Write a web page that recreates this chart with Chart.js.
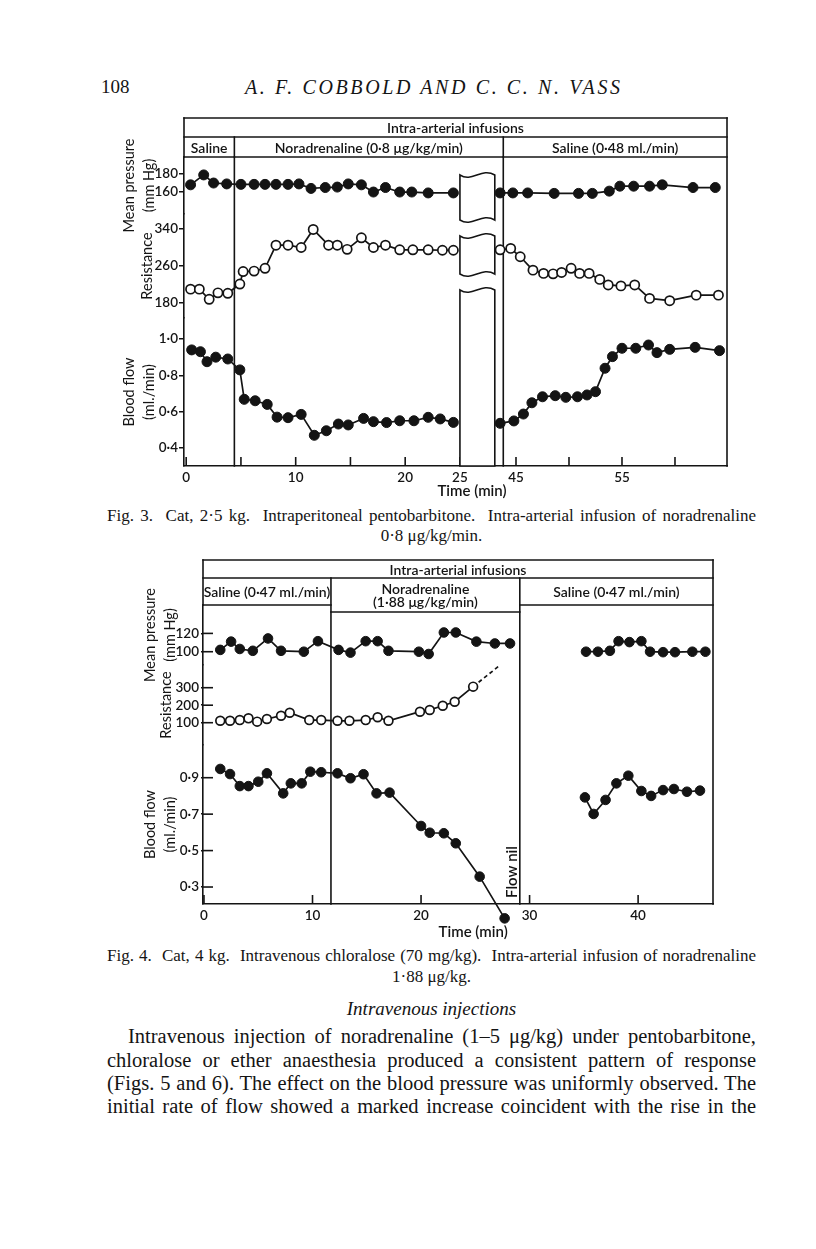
<!DOCTYPE html>
<html>
<head>
<meta charset="utf-8">
<title>Cobbold and Vass, Figs. 3 and 4</title>
<script src="https://cdn.jsdelivr.net/npm/chart.js@4.4.1/dist/chart.umd.min.js"></script>
<style>
  html, body { margin: 0; padding: 0; background: #fff; }
  #page { position: relative; width: 816px; height: 1249px; overflow: hidden;
          font-family: "Liberation Serif", "DejaVu Serif", serif; color: #141414; }
  .t { position: absolute; white-space: pre; }
  .fit { display: inline-block; }
  .fig { position: absolute; }
  .centre { text-align: center; }
  .it { font-style: italic; }
</style>
</head>
<body>
<div id="page">
  <div class="t" style="left:101px; top:75px; font-size:19px; line-height:24px;">108</div>
  <div class="t it" style="left:245px; top:75px; font-size:20px; line-height:24px;"><span class="fit" data-w="375" data-mode="letters">A. F. COBBOLD AND C. C. N. VASS</span></div>

  <div class="fig" style="left:100px; top:110px; width:640px; height:390px;"><canvas id="fig3"></canvas></div>

  <div class="t" style="left:107px; top:506px; font-size:17px; line-height:20px;"><span class="fit" data-w="649">Fig. 3.  Cat, 2·5 kg.  Intraperitoneal pentobarbitone.  Intra-arterial infusion of noradrenaline</span></div>
  <div class="t centre" style="left:107px; width:649px; top:526px; font-size:17px; line-height:20px;">0·8 μg/kg/min.</div>

  <div class="fig" style="left:120px; top:550px; width:620px; height:395px;"><canvas id="fig4"></canvas></div>

  <div class="t" style="left:107px; top:946px; font-size:17px; line-height:20px;"><span class="fit" data-w="649">Fig. 4.  Cat, 4 kg.  Intravenous chloralose (70 mg/kg).  Intra-arterial infusion of noradrenaline</span></div>
  <div class="t centre" style="left:107px; width:649px; top:967px; font-size:17px; line-height:20px;">1·88 μg/kg.</div>

  <div class="t centre it" style="left:107px; width:649px; top:997px; font-size:19px; line-height:23px;">Intravenous injections</div>

  <div class="t" style="left:128px; top:1025px; font-size:20.5px; line-height:23.3px;"><span class="fit" data-w="628">Intravenous injection of noradrenaline (1–5 μg/kg) under pentobarbitone,</span></div>
  <div class="t" style="left:107px; top:1048.5px; font-size:20.5px; line-height:23.3px;"><span class="fit" data-w="649">chloralose or ether anaesthesia produced a consistent pattern of response</span></div>
  <div class="t" style="left:107px; top:1072px; font-size:20.5px; line-height:23.3px;"><span class="fit" data-w="649">(Figs. 5 and 6). The effect on the blood pressure was uniformly observed. The</span></div>
  <div class="t" style="left:107px; top:1095px; font-size:20.5px; line-height:23.3px;"><span class="fit" data-w="649">initial rate of flow showed a marked increase coincident with the rise in the</span></div>
</div>

<script>
'use strict';

// ---------- Fig. 3 : times in min (the 25-45 min stretch is cut out of the axis) ----------
let fig3PressureTime = [0.4, 1.6, 2.5, 3.7, 5.0, 6.2, 7.2, 8.2, 9.3, 10.3, 11.4, 12.7, 13.8, 14.8, 16.0, 17.1, 18.2, 19.5, 20.6, 22.1, 24.4,
  43.5, 44.7, 46.1, 48.6, 50.9, 52.2, 53.8, 54.8, 56.1, 57.6, 58.8, 61.7, 63.8];
let fig3PressureValue = [168, 179, 170, 169, 168.5, 168.5, 168.5, 168.5, 168.5, 169, 164, 165, 165.5, 169, 168, 160, 165, 160, 160, 159, 159,
  159, 159, 159, 158.5, 158.5, 158.5, 161, 166.5, 166.5, 166.5, 168, 165, 165];

let fig3ResistTime = [0.4, 1.2, 2.1, 2.9, 3.8, 4.9, 5.2, 6.2, 7.2, 8.2, 9.3, 10.5, 11.6, 13.0, 13.8, 14.7, 16.0, 17.1, 18.2, 19.5, 20.7, 22.1, 23.4, 24.4,
  43.5, 44.5, 45.4, 46.6, 47.6, 48.5, 49.3, 50.2, 51.0, 51.9, 52.9, 53.7, 54.9, 56.2, 57.6, 59.5, 62.0, 64.1];
let fig3ResistValue = [210, 210, 188, 202, 201, 221, 248, 249, 255, 305, 305, 300, 339, 305, 305, 296, 321, 300, 305, 295, 295, 295, 294, 294,
  295, 298, 280, 251, 244, 243, 246, 255, 244, 244, 231, 219, 217, 219, 190, 185, 197, 197];

let fig3FlowTime = [0.5, 1.3, 1.9, 2.7, 3.8, 4.9, 5.3, 6.3, 7.4, 8.3, 9.3, 10.5, 11.7, 12.8, 13.9, 14.8, 16.2, 17.1, 18.3, 19.5, 20.8, 22.1, 23.2, 24.4,
  43.5, 44.8, 45.7, 46.5, 47.5, 48.7, 49.7, 50.8, 51.7, 52.5, 53.4, 54.1, 55.0, 56.3, 57.5, 58.3, 59.5, 61.9, 64.2];
let fig3FlowValue = [0.94, 0.93, 0.875, 0.90, 0.89, 0.83, 0.668, 0.66, 0.64, 0.57, 0.567, 0.585, 0.47, 0.495, 0.532, 0.527, 0.563, 0.545, 0.54, 0.55, 0.55, 0.569, 0.56, 0.541,
  0.536, 0.549, 0.587, 0.649, 0.682, 0.688, 0.679, 0.682, 0.692, 0.71, 0.839, 0.903, 0.949, 0.949, 0.967, 0.925, 0.943, 0.954, 0.936];

let fig3TickTimes = [0, 5, 10, 15, 20, 25, 45, 50, 55, 60];
let fig3TickLabels = ['0', '', '10', '', '20', '25', '45', '', '55', ''];

// ---------- Fig. 4 ----------
let fig4PressureTime = [1.5, 2.5, 3.3, 4.5, 5.9, 7.1, 9.2, 10.5, 12.4, 13.5, 14.9, 16.0, 17.0, 19.8, 20.7, 22.1, 23.2, 25.1, 26.8, 28.2,
  35.2, 36.3, 37.4, 38.2, 39.2, 40.3, 41.1, 42.3, 43.4, 45.0, 46.2];
let fig4PressureValue = [102, 111, 103, 101, 114.5, 101, 100, 111.5, 102, 99, 111.5, 111.5, 101, 100, 97.5, 121, 121, 111, 109, 109,
  100, 100, 101, 111.5, 110.5, 111.5, 100, 99.5, 99.5, 100, 100];

let fig4ResistTime = [1.5, 2.4, 3.3, 4.1, 4.9, 5.8, 7.1, 7.9, 9.7, 10.8, 12.3, 13.4, 14.9, 16.0, 17.0, 19.9, 20.8, 22.0, 23.1, 24.8];
let fig4ResistValue = [111, 111, 115, 125, 106, 121, 140, 157, 115, 115, 111, 111, 115, 131, 111, 163, 173, 197, 220, 306];
let fig4TrendTime = [24.8, 27.1];
let fig4TrendValue = [306, 420];

let fig4FlowTime = [1.5, 2.4, 3.3, 4.1, 5.0, 5.8, 7.3, 8.0, 9.0, 9.8, 10.8, 12.3, 13.5, 14.7, 15.9, 17.1, 20.0, 20.8, 22.1, 23.2, 25.4, 27.7,
  35.1, 35.9, 37.0, 38.0, 39.1, 40.3, 41.2, 42.3, 43.3, 44.5, 45.7];
let fig4FlowValue = [0.948, 0.92, 0.854, 0.854, 0.878, 0.924, 0.814, 0.869, 0.869, 0.933, 0.93, 0.924, 0.897, 0.919, 0.814, 0.818, 0.635, 0.598, 0.595, 0.54, 0.357, 0.128,
  0.792, 0.701, 0.778, 0.869, 0.911, 0.827, 0.8, 0.832, 0.838, 0.823, 0.829];

let fig4TickTimes = [0, 10, 20, 30, 40];

const INK = '#141414';
const SANS = 'Lato, "Open Sans", "DejaVu Sans", sans-serif';

// Fig. 3 axis jumps from 25 to 45 min
function fig3X(t) {
  return t <= 25 ? t : 30.12 + (t - 45) * 0.968;
}
function plainX(t) {
  return t;
}

function decimal(v) {
  return v.toFixed(1).replace('.', '·');
}

function sansFont(size, weight) {
  return { family: SANS, size: size, weight: weight || 'normal', lineHeight: 1.35 };
}

// points, with a gap wherever the record was interrupted
function series(times, values, toX) {
  let pts = [];
  for (let i = 0; i < times.length; i++) {
    if (i > 0 && times[i] - times[i - 1] > 5) {
      pts.push({ x: toX(times[i - 1]), y: null });
    }
    pts.push({ x: toX(times[i]), y: values[i] });
  }
  return pts;
}

function filled(data, axis, r) {
  return { data: data, yAxisID: axis, borderColor: INK, borderWidth: 1.7, tension: 0, clip: false,
    pointRadius: r, pointBackgroundColor: INK, pointBorderColor: INK, pointBorderWidth: 1 };
}
function open(data, axis, r) {
  return { data: data, yAxisID: axis, borderColor: INK, borderWidth: 1.7, tension: 0, clip: false,
    pointRadius: r, pointBackgroundColor: '#fff', pointBorderColor: INK, pointBorderWidth: 1.7 };
}

function bandAxis(c) {
  return {
    type: 'linear', position: 'left', stack: 'bands', stackWeight: c.weight, weight: c.order,
    min: c.min, max: c.max,
    afterBuildTicks: s => { s.ticks = c.ticks.map(v => ({ value: v })); },
    afterFit: s => { s.width = c.width; },
    grid: { drawOnChartArea: false, drawTicks: true, tickLength: c.tickOut, color: INK, lineWidth: 1.5 },
    border: { display: true, color: INK, width: 1.6 },
    ticks: { color: INK, font: sansFont(13.5, '600'), padding: c.tickPad, autoSkip: false, callback: c.fmt || (v => String(v)) },
    title: { display: true, text: c.title, color: INK, font: sansFont(14.5), padding: { top: c.titlePad, bottom: 0 } }
  };
}

function timeAxis(c) {
  return {
    type: 'linear', min: c.min, max: c.max,
    afterBuildTicks: s => { s.ticks = c.ticks.map(t => ({ value: c.toX(t) })); },
    afterFit: s => { s.height = c.height; },
    grid: { drawOnChartArea: false, drawTicks: false },
    border: { display: true, color: INK, width: 1.6 },
    ticks: { color: INK, font: sansFont(13.5, '600'), padding: c.pad, maxRotation: 0, autoSkip: false,
      callback: (v, i) => c.labels[i] }
  };
}

function wave(ctx, xa, xb, y, back) {
  let w = xb - xa;
  if (!back) {
    ctx.bezierCurveTo(xa + w * 0.35, y + 8, xa + w * 0.62, y - 8, xb, y);
  } else {
    // same edge, walked from right to left
    ctx.bezierCurveTo(xa + w * 0.62, y - 8, xa + w * 0.35, y + 8, xa, y);
  }
}

// header boxes, phase lines, inward ticks, axis break and notes
const figureFrame = {
  id: 'figureFrame',
  beforeDatasetsDraw(chart, args, o) {
    let ctx = chart.ctx;
    let a = chart.chartArea;
    let xs = chart.scales.x;
    let px = t => xs.getPixelForValue(o.toX(t));
    let top = a.top - o.rows[0] - o.rows[1];
    let mid = a.top - o.rows[1];
    let seg = (x0, y0, x1, y1) => { ctx.beginPath(); ctx.moveTo(x0, y0); ctx.lineTo(x1, y1); ctx.stroke(); };

    ctx.save();
    ctx.strokeStyle = INK;
    ctx.fillStyle = INK;
    ctx.lineWidth = 1.6;
    ctx.lineCap = 'square';

    seg(a.left, top, a.right, top);
    seg(a.left, top, a.left, a.top);
    seg(a.right, top, a.right, a.bottom);
    seg(a.left, mid, a.right, mid);
    o.boundaries.forEach(t => seg(px(t), mid, px(t), a.bottom));

    ctx.textAlign = 'center';
    ctx.textBaseline = 'middle';
    ctx.font = o.headFont;
    ctx.fillText(o.title, (a.left + a.right) / 2, top + o.rows[0] / 2 + 1);
    o.phases.forEach(ph => {
      let x0 = ph.from == null ? a.left : px(ph.from);
      let x1 = ph.to == null ? a.right : px(ph.to);
      let yb = a.top + (ph.drop || 0);
      seg(x0, yb, x1, yb);
      let yc = (mid + yb) / 2 + 1 - (ph.text.length - 1) * o.headLine / 2;
      ph.text.forEach((s, i) => ctx.fillText(s, (x0 + x1) / 2, yc + i * o.headLine));
    });

    ctx.lineCap = 'butt';
    xs.ticks.forEach(tk => {
      let p = xs.getPixelForValue(tk.value);
      seg(p, a.bottom, p, a.bottom - o.xTickIn);
    });
    if (o.yTickIn) {
      ['yP', 'yR', 'yF'].forEach(id => {
        let ys = chart.scales[id];
        ys.ticks.forEach(tk => {
          let p = ys.getPixelForValue(tk.value);
          seg(a.left, p, a.left + o.yTickIn, p);
        });
      });
    }

    if (o.cut) {
      let x0 = px(o.cut.from);
      let x1 = px(o.cut.to);
      o.cut.boxes.forEach(b => {
        let y0 = a.top + b[0];
        let y1 = b[1] == null ? a.bottom : a.top + b[1];
        ctx.beginPath();
        ctx.moveTo(x0, y0);
        wave(ctx, x0, x1, y0, false);
        ctx.lineTo(x1, y1);
        if (b[1] == null) {
          ctx.lineTo(x0, y1);
        } else {
          wave(ctx, x0, x1, y1, true);
        }
        ctx.closePath();
        ctx.fillStyle = '#fff';
        ctx.fill();
        ctx.stroke();
      });
    }

    // axis title sits at an axis value, not a time
    ctx.fillStyle = INK;
    ctx.font = o.labelFont;
    ctx.fillText('Time (min)', xs.getPixelForValue(o.xTitleAt), a.bottom + o.xTitleDy);
    (o.notes || []).forEach(n => {
      ctx.save();
      ctx.translate(px(n.at), a.bottom - n.up);
      ctx.rotate(-Math.PI / 2);
      ctx.fillText(n.text, 0, 0);
      ctx.restore();
    });
    ctx.restore();
  },
  // Chart.js leaves out points that fall outside the plot area; the last flow reading of Fig. 4 is printed below the axis
  afterDatasetsDraw(chart) {
    let ctx = chart.ctx;
    let a = chart.chartArea;
    chart.data.datasets.forEach((ds, i) => {
      if (!ds.pointRadius) return;
      chart.getDatasetMeta(i).data.forEach(pt => {
        if (pt.skip || (pt.y <= a.bottom + 0.5 && pt.y >= a.top - 0.5)) return;
        ctx.save();
        ctx.beginPath();
        ctx.arc(pt.x, pt.y, ds.pointRadius, 0, Math.PI * 2);
        ctx.fillStyle = ds.pointBackgroundColor;
        ctx.strokeStyle = ds.pointBorderColor;
        ctx.lineWidth = ds.pointBorderWidth;
        ctx.fill();
        ctx.stroke();
        ctx.restore();
      });
    });
  }
};

function baseOptions(pad) {
  return {
    responsive: true,
    maintainAspectRatio: false,
    animation: false,
    events: [],
    layout: { autoPadding: false, padding: pad },
    plugins: { legend: { display: false }, tooltip: { enabled: false } }
  };
}

// ---------- Fig. 3 ----------
let opt3 = baseOptions({ top: 47, right: 13, left: 0, bottom: 0 });
opt3.scales = {
  x: timeAxis({ min: -0.2, max: 49.39, toX: fig3X, ticks: fig3TickTimes, labels: fig3TickLabels, height: 34, pad: 3 }),
  yF: bandAxis({ order: 1, weight: 148, min: 0.301, max: 1.1156, ticks: [0.4, 0.6, 0.8, 1.0], fmt: decimal,
    title: ['Blood flow', '(ml./min)'], titlePad: 20, width: 84, tickOut: 5, tickPad: 1 }),
  yR: bandAxis({ order: 2, weight: 104, min: 147.6, max: 372.4, ticks: [180, 260, 340],
    title: 'Resistance', titlePad: 38, width: 84, tickOut: 5, tickPad: 1 }),
  yP: bandAxis({ order: 3, weight: 57, min: 135.6, max: 198.9, ticks: [160, 180],
    title: ['Mean pressure', '(mm Hg)'], titlePad: 20, width: 84, tickOut: 5, tickPad: 1 })
};
opt3.plugins.figureFrame = {
  toX: fig3X,
  rows: [19, 20],
  title: 'Intra-arterial infusions',
  headFont: '600 14px ' + SANS,
  labelFont: '600 15px ' + SANS,
  headLine: 13,
  phases: [
    { from: null, to: 4.4, text: ['Saline'] },
    { from: 4.4, to: 43.8, text: ['Noradrenaline (0·8 μg/kg/min)'] },
    { from: 43.8, to: null, text: ['Saline (0·48 ml./min)'] }
  ],
  boundaries: [4.4, 43.8],
  cut: { from: 25, to: 43, boxes: [[18, 63], [79, 117], [133, null]] },
  xTickIn: 9,
  yTickIn: 0,
  xTitleAt: 26.1,
  xTitleDy: 25
};

new Chart(document.getElementById('fig3'), {
  type: 'line',
  data: {
    datasets: [
      filled(series(fig3PressureTime, fig3PressureValue, fig3X), 'yP', 5),
      open(series(fig3ResistTime, fig3ResistValue, fig3X), 'yR', 4.6),
      filled(series(fig3FlowTime, fig3FlowValue, fig3X), 'yF', 5)
    ]
  },
  options: opt3,
  plugins: [figureFrame]
});

// ---------- Fig. 4 ----------
let opt4 = baseOptions({ top: 55, right: 27, left: 0, bottom: 0 });
opt4.scales = {
  x: timeAxis({ min: -0.09, max: 46.9, toX: plainX, ticks: fig4TickTimes, labels: fig4TickTimes.map(String), height: 41, pad: 3 }),
  yF: bandAxis({ order: 1, weight: 159, min: 0.2068, max: 1.0795, ticks: [0.3, 0.5, 0.7, 0.9], fmt: decimal,
    title: ['Blood flow', '(ml./min)'], titlePad: 21, width: 83, tickOut: 2, tickPad: 2 }),
  yR: bandAxis({ order: 2, weight: 80, min: -27.4, max: 429.7, ticks: [100, 200, 300],
    title: 'Resistance', titlePad: 37, width: 83, tickOut: 2, tickPad: 2 }),
  yP: bandAxis({ order: 3, weight: 60, min: 85.5, max: 151, ticks: [100, 120],
    title: ['Mean pressure', '(mm Hg)'], titlePad: 21, width: 83, tickOut: 2, tickPad: 2 })
};
opt4.plugins.figureFrame = {
  toX: plainX,
  rows: [18, 27],
  title: 'Intra-arterial infusions',
  headFont: '600 14px ' + SANS,
  labelFont: '600 15px ' + SANS,
  headLine: 13,
  phases: [
    { from: null, to: 11.7, text: ['Saline (0·47 ml./min)'] },
    { from: 11.7, to: 29.1, text: ['Noradrenaline', '(1·88 μg/kg/min)'], drop: 7 },
    { from: 29.1, to: null, text: ['Saline (0·47 ml./min)'] }
  ],
  boundaries: [11.7, 29.1],
  xTickIn: 9,
  yTickIn: 10,
  xTitleAt: 24.8,
  xTitleDy: 28,
  notes: [{ text: 'Flow nil', at: 28.4, up: 32 }]
};

let trend = open(series(fig4TrendTime, fig4TrendValue, plainX), 'yR', 0);
trend.borderDash = [4, 3];

new Chart(document.getElementById('fig4'), {
  type: 'line',
  data: {
    datasets: [
      filled(series(fig4PressureTime, fig4PressureValue, plainX), 'yP', 4.8),
      open(series(fig4ResistTime, fig4ResistValue, plainX), 'yR', 4.4),
      trend,
      filled(series(fig4FlowTime, fig4FlowValue, plainX), 'yF', 4.8)
    ]
  },
  options: opt4,
  plugins: [figureFrame]
});

// stretch each printed line to its measured width
document.querySelectorAll('.fit').forEach(el => {
  let target = Number(el.dataset.w);
  let natural = el.getBoundingClientRect().width;
  if (el.dataset.mode === 'letters') {
    let n = el.textContent.length - 1;
    el.style.letterSpacing = ((target - natural) / n) + 'px';
  } else {
    let gaps = (el.textContent.match(/ /g) || []).length;
    if (gaps) el.style.wordSpacing = ((target - natural) / gaps) + 'px';
  }
});
</script>
</body>
</html>
